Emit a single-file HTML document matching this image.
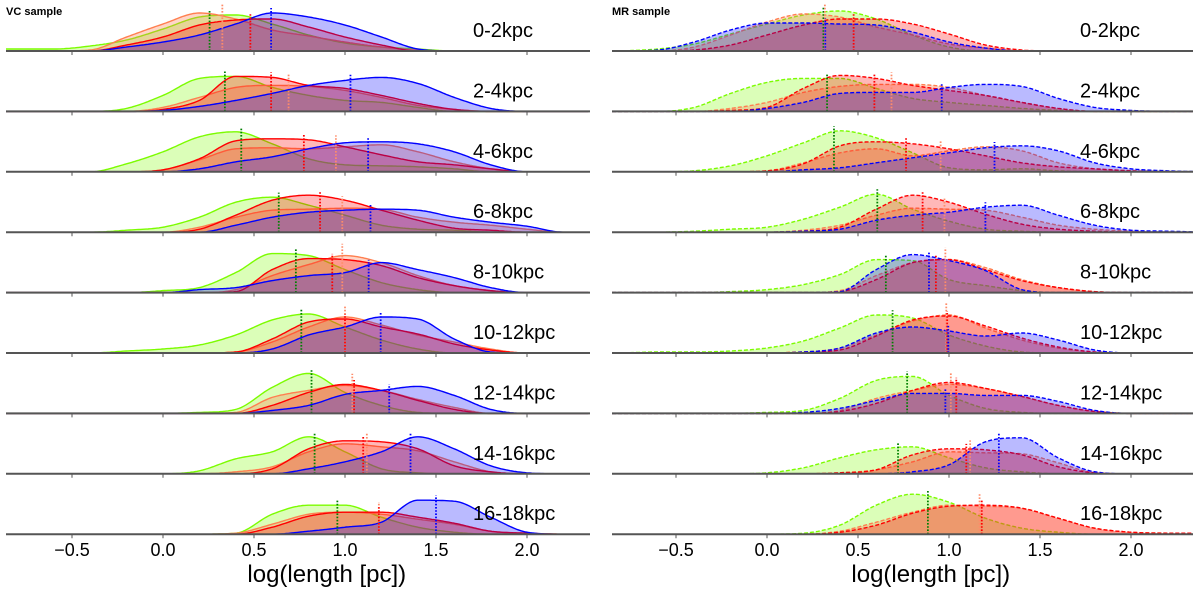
<!DOCTYPE html>
<html><head><meta charset="utf-8">
<style>
html,body{margin:0;padding:0;background:#fff;}
svg{display:block;font-family:"Liberation Sans","DejaVu Sans",sans-serif;}
</style></head>
<body>
<svg id="chart" width="1200" height="589" viewBox="0 0 1200 589"></svg>
<script>
// grid of log(length) values where densities were read: -0.8 .. 2.4 step 0.2
const gridX = [-0.8,-0.6,-0.4,-0.2,0,0.2,0.4,0.6,0.8,1.0,1.2,1.4,1.6,1.8,2.0,2.2,2.4];
const rowLabels = ["0-2kpc","2-4kpc","4-6kpc","6-8kpc","8-10kpc","10-12kpc","12-14kpc","14-16kpc","16-18kpc"];
const xTicks = [-0.5,0.0,0.5,1.0,1.5,2.0];
const xTickLabels = ["\u22120.5","0.0","0.5","1.0","1.5","2.0"];

// VC sample densities (px heights)
const vcGreen = [
[2,2,5,11,22,34,36,27,16,8,4,2,0,0,0,0,0],
[0,0,0,3,16,33,35,24,16,11,9,4,0,0,0,0,0],
[0,0,0,8,20,35,40,28,13,7,6,5,3,0,0,0,0],
[0,0,0,2,5,15,30,35,27,17,7,3,2,0,0,0,0],
[0,0,0,0,2,5,20,39,37,23,10,3,0,0,0,0,0],
[0,0,0,2,4,8,18,33,39,26,13,4,0,0,0,0,0],
[0,0,0,0,0,1,4,26,40,21,8,1,0,0,0,0,0],
[0,0,0,0,0,3,15,22,37,22,5,1,0,0,0,0,0],
[0,0,0,0,0,0,1,20,29,29,17,7,2,0,0,0,0]];
const vcOrange = [
[0,0,1,14,27,38,32,21,15,9,4,1,0,0,0,0,0],
[0,0,0,0,4,14,24,26,25,21,14,6,2,0,0,0,0],
[0,0,0,0,2,12,23,24,23,25,27,20,10,3,0,0,0],
[0,0,0,0,0,5,15,22,23,24,23,15,10,7,3,0,0],
[0,0,0,0,0,0,3,17,28,37,30,17,7,2,0,0,0],
[0,0,0,0,0,0,1,11,26,36,28,18,11,4,0,0,0],
[0,0,0,0,0,0,1,16,23,28,23,14,6,0,0,0,0],
[0,0,0,0,0,0,2,7,22,30,27,23,12,2,0,0,0],
[0,0,0,0,0,0,1,10,20,22,20,15,10,3,1,0,0]];
const vcRed = [
[0,0,0,6,14,26,31,32,24,14,6,0,0,0,0,0,0],
[0,0,0,0,2,11,35,34,26,23,16,8,2,0,0,0,0],
[0,0,0,0,2,13,31,33,32,25,17,10,7,3,0,0,0],
[0,0,0,0,0,3,17,32,37,32,22,12,4,2,0,0,0],
[0,0,0,0,0,0,1,23,34,33,27,15,7,2,0,0,0],
[0,0,0,0,0,0,1,14,31,34,26,19,9,3,0,0,0],
[0,0,0,0,0,0,0,8,21,29,23,13,4,0,0,0,0],
[0,0,0,0,0,0,0,5,25,33,32,25,8,2,0,0,0],
[0,0,0,0,0,0,0,7,18,22,22,17,11,3,1,0,0]];
const vcBlue = [
[0,0,0,4,9,16,27,38,34,26,14,2,0,0,0,0,0],
[0,0,0,0,1,5,11,18,26,31,34,28,14,3,0,0,0],
[0,0,0,0,0,3,10,15,23,29,30,28,20,7,0,0,0],
[0,0,0,0,0,0,7,15,20,22,23,22,15,10,6,0,0],
[0,0,0,0,0,3,5,12,17,20,30,23,15,5,0,0,0],
[0,0,0,0,0,0,0,4,18,26,36,34,14,1,0,0,0],
[0,0,0,0,0,0,0,3,8,19,23,27,18,4,0,0,0],
[0,0,0,0,0,0,0,0,5,12,22,37,25,8,1,0,0],
[0,0,0,0,0,0,0,0,3,7,12,34,33,17,2,0,0]];
const vcMedGreen = [0.256,0.34,0.43,0.636,0.73,0.76,0.816,0.833,0.958];
const vcMedOrange = [0.326,0.69,0.95,0.985,0.985,1.0,1.04,1.12,1.186];
const vcMedRed = [0.48,0.594,0.774,0.863,0.93,1.0,1.05,1.1,1.186];
const vcMedBlue = [0.594,1.03,1.127,1.14,1.13,1.196,1.243,1.36,1.5];

// MR sample densities
const mrGreen = [
[0,2,7,17,27,36,40,32,16,4,0,0,0,0,0,0,0],
[0,0,4,18,29,33,33,23,13,9,6,3,1,0,0,0,0],
[0,0,1,6,16,29,41,34,19,4,2,3,1,0,0,0,0],
[0,0,1,3,5,13,25,38,23,11,3,1,0,0,0,0,0],
[0,0,0,1,3,8,18,33,32,13,7,2,0,0,0,0,0],
[0,1,1,2,5,12,25,38,35,18,7,1,0,0,0,0,0],
[0,0,0,0,1,3,15,33,37,18,5,1,0,0,0,0,0],
[0,0,0,0,1,6,16,24,27,16,6,2,0,0,0,0,0],
[0,0,0,0,0,1,9,29,40,32,16,6,2,0,0,0,0]];
const mrOrange = [
[0,0,4,16,29,37,34,24,16,7,3,0,0,0,0,0,0],
[0,0,0,3,9,19,25,27,27,24,16,9,3,0,0,0,0],
[0,0,0,0,1,9,19,23,16,21,25,21,9,3,1,0,0],
[0,0,0,0,0,2,7,17,24,23,22,15,7,3,1,0,0],
[0,0,0,0,0,0,2,17,30,33,25,13,5,1,0,0,0],
[0,0,0,0,0,1,5,18,32,38,25,13,5,1,0,0,0],
[0,0,0,0,0,0,3,15,23,29,25,17,8,2,0,0,0],
[0,0,0,0,0,0,1,4,12,22,21,20,11,1,0,0,0],
[0,0,0,0,0,0,3,12,22,29,28,26,16,6,2,1,0]];
const mrRed = [
[0,0,1,6,16,26,32,32,27,17,6,1,0,0,0,0,0],
[0,0,0,1,4,23,36,33,26,21,16,9,3,0,0,0,0],
[0,0,0,0,1,8,26,30,28,23,16,9,5,3,1,0,0],
[0,0,0,0,0,1,5,23,37,30,18,8,3,1,0,0,0],
[0,0,0,0,0,0,1,13,30,33,23,12,5,1,0,0,0],
[0,0,0,0,0,1,3,17,33,37,27,15,6,1,0,0,0],
[0,0,0,0,0,0,2,10,23,31,25,17,8,2,0,0,0],
[0,0,0,0,0,0,1,4,19,25,24,19,7,1,0,0,0],
[0,0,0,0,0,0,2,9,21,28,29,26,16,6,2,1,1]];
const mrBlue = [
[0,1,9,21,28,28,27,26,19,9,3,0,0,0,0,0,0],
[0,0,0,0,3,9,18,19,19,24,27,25,13,4,1,0,0],
[0,0,0,0,0,2,4,9,14,19,24,26,21,9,3,1,0],
[0,0,0,0,0,1,3,12,17,20,25,27,17,7,2,1,0],
[0,0,0,0,0,0,1,23,38,32,22,3,0,0,0,0,0],
[0,0,0,0,0,1,5,20,26,22,17,20,13,3,0,0,0],
[0,0,0,0,0,1,5,13,20,20,18,18,12,3,0,0,0],
[0,0,0,0,0,0,0,0,2,9,32,36,16,2,0,0,0],
null];
const mrMedGreen = [0.31,0.33,0.368,0.606,0.653,0.69,0.77,0.72,0.884];
const mrMedOrange = [0.318,0.684,0.954,0.975,0.98,0.985,1.01,1.116,1.168];
const mrMedRed = [0.476,0.59,0.764,0.855,0.928,0.99,1.04,1.095,1.18];
const mrMedBlue = [0.32,0.96,1.25,1.2,0.89,0.996,0.98,1.274,null];

const NS = "http://www.w3.org/2000/svg";
const svg = document.getElementById("chart");
function mk(tag, attrs, parent){
  const e = document.createElementNS(NS, tag);
  for (const k in attrs) e.setAttribute(k, attrs[k]);
  (parent||svg).appendChild(e);
  return e;
}
const firstBase = 51, rowGap = 60.4;
function baseY(i){ return firstBase + i*rowGap; }

function interp(vals, x){
  const n = gridX.length;
  if (x <= gridX[0]) return vals[0];
  if (x >= gridX[n-1]) return vals[n-1];
  const h = 0.2;
  const d = [];
  for (let i=0;i<n-1;i++) d.push((vals[i+1]-vals[i])/h);
  const m = [d[0]];
  for (let i=1;i<n-1;i++) m.push(d[i-1]*d[i] <= 0 ? 0 : (d[i-1]+d[i])/2);
  m.push(d[n-2]);
  for (let i=0;i<n-1;i++){
    if (d[i]===0){ m[i]=0; m[i+1]=0; continue; }
    const a=m[i]/d[i], b=m[i+1]/d[i], s=a*a+b*b;
    if (s>9){ const t=3/Math.sqrt(s); m[i]=t*a*d[i]; m[i+1]=t*b*d[i]; }
  }
  let i = Math.min(n-2, Math.floor((x-gridX[0])/h));
  const t = (x-gridX[i])/h;
  const t2=t*t, t3=t2*t;
  const v = (2*t3-3*t2+1)*vals[i] + (t3-2*t2+t)*h*m[i] + (-2*t3+3*t2)*vals[i+1] + (t3-t2)*h*m[i+1];
  return Math.max(0, v);
}

const series = [
  {key:"green", line:"#7cfc00", fill:"rgba(124,252,0,0.28)", med:"#008000"},
  {key:"orange", line:"#ff7f50", fill:"rgba(255,127,80,0.32)", med:"#ff8c69"},
  {key:"red", line:"#ff0000", fill:"rgba(255,0,0,0.28)", med:"#ff0000"},
  {key:"blue", line:"#0000ff", fill:"rgba(0,0,255,0.27)", med:"#0000ff"}
];

function panel(cfg){
  const g = mk("g", {});
  
  
  const sx = v => cfg.x0 + v*cfg.scale;
  const vmin = (cfg.left - cfg.x0)/cfg.scale, vmax = (cfg.right - cfg.x0)/cfg.scale;
  for (let r=0;r<9;r++){
    const by = baseY(r);
    const rg = mk("g", {}, g);
    
    
    series.forEach((s, si) => {
      const vals = cfg.data[si][r];
      if (!vals) return;
      let pts = [];
      for (let v=vmin; v<=vmax+1e-9; v+=0.01){
        pts.push([sx(v), by - interp(vals, v)]);
      }
      const lineD = "M" + pts.map(p=>p[0].toFixed(1)+","+p[1].toFixed(1)).join("L");
      const fillD = lineD + "L" + pts[pts.length-1][0].toFixed(1) + "," + by + "L" + pts[0][0].toFixed(1) + "," + by + "Z";
      const f = mk("path", {d:fillD, fill:s.fill, stroke:"none"}, rg);
      
      
      const l = mk("path", {d:lineD, fill:"none", stroke:s.line, "stroke-width":1.4, "stroke-dasharray": cfg.dash ? "4,2" : "none"}, rg);
      
      
    });
    series.forEach((s, si) => {
      const med = cfg.meds[si][r];
      if (med === null || med === undefined) return;
      const vals = cfg.data[si][r] || cfg.data[0][r];
      const top = by - interp(vals, med) - (si===1 ? 12 : 5);
      const ml = mk("line", {x1:sx(med), x2:sx(med), y1:by, y2:top, stroke:s.med, "stroke-width":1.8, "stroke-dasharray":"1.6,1.6"}, rg);
      
      
    });
    const ax = mk("line", {x1:cfg.left, x2:cfg.right, y1:by, y2:by, stroke:"#555", "stroke-width":2}, rg);
    
    
    xTicks.forEach(t => {
      const tk = mk("line", {x1:sx(t), x2:sx(t), y1:by, y2:by+4, stroke:"#555", "stroke-width":1}, rg);
      
      
    });
    const lb = mk("text", {x:cfg.labelX, y:by-14, "font-size":20, fill:"#000"}, rg);
    lb.textContent = rowLabels[r];
    
    
  }
  xTicks.forEach((t, i) => {
    const tl = mk("text", {x:sx(t), y:556, "font-size":18, "text-anchor":"middle", fill:"#000"}, g);
    tl.textContent = xTickLabels[i];
    
    
  });
  const xt = mk("text", {x:sx(0.9), y:582, "font-size":24, "text-anchor":"middle", fill:"#000"}, g);
  xt.textContent = "log(length [pc])";
  
  
  const tt = mk("text", {x:cfg.left, y:15, "font-size":11, "font-weight":"bold", fill:"#000"}, g);
  tt.textContent = cfg.title;
  
  
}

panel({name:"vc-sample-panel", title:"VC sample", x0:163, scale:182, left:6, right:590, labelX:473, dash:false,
  data:[vcGreen, vcOrange, vcRed, vcBlue], meds:[vcMedGreen, vcMedOrange, vcMedRed, vcMedBlue]});
panel({name:"mr-sample-panel", title:"MR sample", x0:767, scale:182, left:612, right:1193, labelX:1080, dash:true,
  data:[mrGreen, mrOrange, mrRed, mrBlue], meds:[mrMedGreen, mrMedOrange, mrMedRed, mrMedBlue]});
</script>
</body></html>
